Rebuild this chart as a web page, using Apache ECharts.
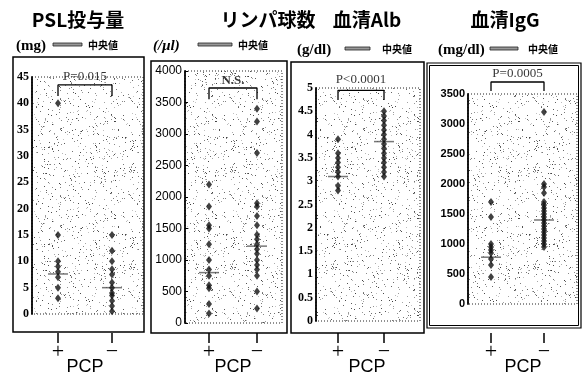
<!DOCTYPE html>
<html>
<head>
<meta charset="utf-8">
<script src="https://cdn.jsdelivr.net/npm/echarts@6/dist/echarts.min.js"></script>
<style>
  html, body { margin: 0; padding: 0; background: #fff; }
  #chart { width: 583px; height: 375px; }
</style>
</head>
<body>
<div id="chart"></div>
<script>
// groups on every x axis
const groups = ['+', '−'];

// PSL投与量 (mg)
const pslPos = [40, 15, 10, 9, 8, 7, 5, 3];
const pslNeg = [15, 12, 10, 8.5, 7.5, 6, 5, 4, 3.5, 2.5, 1.5, 0.5];
const pslMed = [7.6, 5];
const pslBracket = [41.4, 43.5, 45];   // leg end, bar, p-text

// リンパ球数 (/μl)
const lymPos = [2200, 1850, 1550, 1500, 1250, 1000, 850, 750, 600, 550, 300, 150];
const lymNeg = [3400, 3200, 2700, 1900, 1850, 1700, 1550, 1400, 1330, 1250, 1170, 1100, 1000, 920, 850, 750, 500, 230];
const lymMed = [800, 1220];
const lymBracket = [3550, 3730, 3850];

// 血清Alb (g/dl)
const albPos = [3.9, 3.6, 3.5, 3.4, 3.3, 3.2, 3.1, 2.9, 2.8];
const albNeg = [4.5, 4.4, 4.3, 4.2, 4.1, 4.0, 3.9, 3.8, 3.7, 3.6, 3.5, 3.4, 3.3, 3.2, 3.1];
const albMed = [3.1, 3.85];
const albBracket = [4.74, 4.95, 5.17];

// 血清IgG (mg/dl)
const iggPos = [1700, 1450, 1000, 950, 900, 850, 750, 650, 450];
const iggNeg = [3200, 2000, 1950, 1850, 1700, 1650, 1600, 1550, 1500, 1450, 1400, 1350, 1300, 1250, 1200, 1150, 1100, 1050, 1000, 950];
const iggMed = [780, 1400];
const iggBracket = [3550, 3700, 3840];

const panels = [
  { title: 'PSL投与量', tx: 78, unit: '(mg)', ux: 16, line: [53, 82], mx: 88, sy: 46, pcx: 85,
    pos: pslPos, neg: pslNeg, med: pslMed, br: pslBracket, pText: 'P=0.015',
    max: 45, step: 5, plot: [32, 77, 111, 237], cols: [58, 112], offset: 19,
    frame: [13, 57, 131, 275], font: 'Liberation Sans Narrow', size: 12, bold: true },
  { title: 'リンパ球数', tx: 268, unit: '(/μl)', ux: 153, line: [198, 232], mx: 238, sy: 46, pcx: 233, italic: true,
    pos: lymPos, neg: lymNeg, med: lymMed, br: lymBracket, pText: 'N.S.', pBold: true,
    max: 4000, step: 500, plot: [185, 71, 97, 252], cols: [209, 257], offset: 10,
    frame: [151, 61, 136, 272], font: 'Liberation Sans', size: 12, ticks: true },
  { title: '血清Alb', tx: 367, unit: '(g/dl)', ux: 297, line: [345, 370], mx: 382, sy: 50, pcx: 367,
    pos: albPos, neg: albNeg, med: albMed, br: albBracket, pText: 'P<0.0001',
    max: 5, step: 0.5, plot: [316, 88, 104, 233], cols: [338, 384], offset: 12,
    frame: [291, 62, 133, 271], font: 'Liberation Sans Narrow', size: 12, bold: true },
  { title: '血清IgG', tx: 505, unit: '(mg/dl)', ux: 438, line: [490, 518], mx: 528, sy: 50, pcx: 523,
    pos: iggPos, neg: iggNeg, med: iggMed, br: iggBracket, pText: 'P=0.0005',
    max: 3500, step: 500, plot: [468, 94, 109, 210], cols: [491, 544], offset: 29,
    frame: [427, 63, 154, 265], double: true, font: 'Liberation Sans', size: 11, bold: true }
];

// grey speckle like the scanned shading
function stipple() {
  const c = document.createElement('canvas');
  c.width = 101; c.height = 97;
  const ctx = c.getContext('2d');
  let s = 20240607;
  const next = () => {
    s = (s + 0x6D2B79F5) | 0;
    let t = Math.imul(s ^ (s >>> 15), 1 | s);
    t = (t + Math.imul(t ^ (t >>> 7), 61 | t)) ^ t;
    return ((t ^ (t >>> 14)) >>> 0) / 4294967296;
  };
  for (let i = 0; i < 480; i++) {
    const g = Math.floor(60 + next() * 140);
    ctx.fillStyle = `rgb(${g},${g},${g})`;
    ctx.fillRect(Math.floor(next() * c.width), Math.floor(next() * c.height), 1, 1);
  }
  return c;
}
const speckle = { image: stipple(), repeat: 'repeat' };

const chart = echarts.init(document.getElementById('chart'), null, { renderer: 'canvas' });

const grid = [], xAxis = [], yAxis = [], series = [], graphic = [];

panels.forEach((p, i) => {
  const [left, top, width, height] = p.plot;
  const u = p.cols[1] - p.cols[0];
  grid.push({
    left, top, width, height, show: true, containLabel: false, outerBoundsMode: 'none',
    backgroundColor: speckle, borderColor: '#222', borderWidth: 1, borderType: [1, 2]
  });
  xAxis.push({
    gridIndex: i, type: 'value',
    min: (left - p.cols[0]) / u, max: (left + width - p.cols[0]) / u,
    offset: p.offset,
    axisLine: { show: true, onZero: false, lineStyle: { opacity: 0 } },
    splitLine: { show: false },
    axisTick: { show: true, customValues: [0, 1], length: 10, lineStyle: { color: '#000', width: 1.5 } },
    axisLabel: {
      customValues: [0, 1], margin: 8, hideOverlap: false,
      fontFamily: 'Liberation Serif', fontSize: 22, color: '#000',
      formatter: v => groups[v]
    }
  });
  yAxis.push({
    gridIndex: i, type: 'value', min: 0, max: p.max, interval: p.step,
    axisLine: { show: true, onZero: false, lineStyle: { color: '#000', width: 1.8 } },
    axisTick: { show: !!p.ticks, inside: true, length: 3, lineStyle: { color: '#000' } },
    splitLine: { show: false },
    axisLabel: { margin: 3, color: '#000', fontFamily: p.font, fontSize: p.size,
      fontWeight: p.bold ? 'bold' : 'normal', formatter: v => String(v) }
  });

  series.push({
    type: 'scatter', xAxisIndex: i, yAxisIndex: i, z: 3,
    symbol: 'diamond', symbolSize: [6, 8], itemStyle: { color: '#111' },
    data: p.pos.map(v => [0, v]).concat(p.neg.map(v => [1, v]))
  });
  series.push({
    type: 'scatter', xAxisIndex: i, yAxisIndex: i, z: 2,
    symbol: 'rect', symbolSize: [20, 1.5], itemStyle: { color: '#555' },
    data: p.med.map((v, k) => [k, v])
  });
  series.push({
    type: 'line', xAxisIndex: i, yAxisIndex: i, clip: false, symbol: 'none',
    lineStyle: { color: '#000', width: 1.3 },
    data: [[0, p.br[0]], [0, p.br[1]], [1, p.br[1]], [1, p.br[0]]]
  });
  series.push({
    type: 'scatter', xAxisIndex: i, yAxisIndex: i, clip: false, symbolSize: 0,
    label: { show: true, position: 'inside', formatter: p.pText, color: '#000',
      fontFamily: 'Liberation Serif', fontSize: 13, fontWeight: p.pBold ? 'bold' : 'normal' },
    data: [[0.5, p.br[2]]]
  });

  // panel frame
  const [fx, fy, fw, fh] = p.frame;
  graphic.push({ type: 'rect', shape: { x: fx, y: fy, width: fw, height: fh },
    style: { fill: null, stroke: '#000', lineWidth: p.double ? 1.2 : 1.5 }, silent: true });
  if (p.double) {
    graphic.push({ type: 'rect', shape: { x: fx + 2.5, y: fy + 2.5, width: fw - 5, height: fh - 5 },
      style: { fill: null, stroke: '#000', lineWidth: 1 }, silent: true });
  }
  // title and unit / median key
  graphic.push({ type: 'text', x: p.tx, y: 20, silent: true,
    style: { text: p.title, font: 'bold 19px "Noto Sans CJK JP"', fill: '#000', align: 'center', verticalAlign: 'middle' } });
  graphic.push({ type: 'text', x: p.ux, y: p.sy, silent: true,
    style: { text: p.unit, font: (p.italic ? 'italic ' : '') + 'bold 15px "Liberation Serif"', fill: '#000', verticalAlign: 'middle' } });
  graphic.push({ type: 'rect', shape: { x: p.line[0], y: p.sy - 3, width: p.line[1] - p.line[0], height: 3 }, silent: true,
    style: { fill: '#999', stroke: '#222', lineWidth: 0.8 } });
  graphic.push({ type: 'text', x: p.mx, y: p.sy - 1, silent: true,
    style: { text: '中央値', font: 'bold 10px "Noto Sans CJK JP"', fill: '#000', verticalAlign: 'middle' } });
  // x axis caption
  graphic.push({ type: 'text', x: p.pcx, y: 367, silent: true,
    style: { text: 'PCP', font: '18px "Liberation Sans"', fill: '#000', align: 'center', verticalAlign: 'middle' } });
});

chart.setOption({
  animation: false,
  backgroundColor: '#fff',
  grid, xAxis, yAxis, series, graphic
});
</script>
</body>
</html>
